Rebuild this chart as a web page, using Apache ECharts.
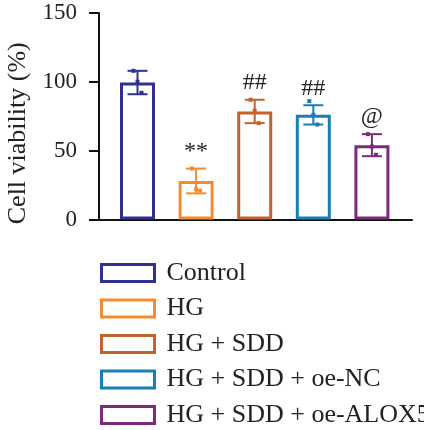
<!DOCTYPE html>
<html>
<head>
<meta charset="utf-8">
<script src="https://cdn.jsdelivr.net/npm/echarts@6/dist/echarts.min.js"></script>
<style>
  html, body { margin: 0; padding: 0; background: #fff; }
  #chart { width: 424px; height: 430px; }
</style>
</head>
<body>
<div id="chart"></div>
<script>
// groups and measured values (cell viability, %)
const categories = ['Control', 'HG', 'HG + SDD', 'HG + SDD + oe-NC', 'HG + SDD + oe-ALOX5']
const means = [99.5, 28, 78.5, 76, 54]
const sds = [8.5, 9, 8.5, 7, 8]
const points = [
  [108, 100, 92],
  [37, 22, 21],
  [87, 79, 70],
  [86, 76, 69],
  [62, 53, 47],
]
const marks = ['', '**', '##', '##', '@']
const yTicks = [0, 50, 100, 150]

const colors = ['#2e3190', '#f68a2e', '#c5622c', '#1b7db6', '#7d2a7c']
const fontFamily = '"Liberation Serif", "Times New Roman", serif'

const chart = echarts.init(document.getElementById('chart'))

// one bar series holds all groups
const barSeries = {
  type: 'bar',
  barWidth: 35,
  data: categories.map((name, i) => ({
    value: [i + 1, means[i]],
    itemStyle: { color: '#fff', borderColor: colors[i], borderWidth: 3 },
  })),
  z: 2,
}
// empty series, only for the legend entries (scatter so they take no bar slot)
const legendSeries = categories.map((name, i) => ({
  name: name,
  type: 'scatter',
  data: [],
  itemStyle: { color: '#fff', borderColor: colors[i], borderWidth: 3, opacity: 1 },
}))

// error bars + significance marks
const errSeries = {
  type: 'custom',
  z: 3,
  data: categories.map((c, i) => [i + 1, means[i] - sds[i], means[i] + sds[i], i]),
  renderItem: function (params, api) {
    const i = api.value(3)
    const lo = api.coord([api.value(0), api.value(1)])
    const hi = api.coord([api.value(0), api.value(2)])
    const half = 10
    const st = { stroke: colors[i], lineWidth: 2 }
    return {
      type: 'group',
      children: [
        { type: 'line', shape: { x1: lo[0], y1: lo[1], x2: hi[0], y2: hi[1] }, style: st },
        { type: 'line', shape: { x1: hi[0] - half, y1: hi[1], x2: hi[0] + half, y2: hi[1] }, style: st },
        { type: 'line', shape: { x1: lo[0] - half, y1: lo[1], x2: lo[0] + half, y2: lo[1] }, style: st },
        {
          type: 'text',
          style: {
            text: marks[i],
            x: hi[0],
            y: hi[1] - 5,
            align: 'center',
            verticalAlign: 'bottom',
            fill: '#222',
            font: '24px ' + fontFamily,
          },
        },
      ],
    }
  },
}

// individual data points
const dotData = []
points.forEach((arr, i) => {
  arr.forEach((v, k) => {
    dotData.push({
      value: [i + 1, v],
      symbolOffset: [(k - 1) * 4, 0],
      itemStyle: { color: colors[i], opacity: 1 },
    })
  })
})
const dotSeries = {
  type: 'scatter',
  symbol: 'rect',
  symbolSize: 4,
  data: dotData,
  z: 4,
}

const options = {
  animation: false,
  grid: {
    left: 99,
    right: 12,
    top: 13,
    bottom: 210.5,
    outerBoundsMode: 'none',
  },
  legend: {
    orient: 'vertical',
    left: 100,
    top: 260,
    height: 200,
    padding: 0,
    itemWidth: 53,
    itemHeight: 17,
    itemGap: 9.5,
    icon: 'rect',
    textStyle: {
      fontFamily: fontFamily,
      fontSize: 26,
      color: '#222',
      padding: [0, 0, 0, 7],
    },
    data: categories.map((name, i) => ({
      name: name,
      icon: 'rect',
      itemStyle: { color: '#fff', borderColor: colors[i], borderWidth: 3, opacity: 1 },
    })),
  },
  xAxis: {
    type: 'value',
    min: 0.343,
    max: 5.684,
    axisLine: { show: true, lineStyle: { color: '#111', width: 2 } },
    axisTick: { show: false },
    axisLabel: { show: false },
    splitLine: { show: false },
  },
  yAxis: {
    type: 'value',
    min: 0,
    max: 150,
    interval: 50,
    name: 'Cell viability (%)',
    nameLocation: 'middle',
    nameGap: 68,
    nameTextStyle: {
      fontFamily: fontFamily,
      fontSize: 26,
      color: '#222',
      padding: [0, 34, 0, 0],
    },
    axisLine: { show: true, lineStyle: { color: '#111', width: 2 } },
    axisTick: { show: true, length: 10, lineStyle: { color: '#111', width: 2 } },
    axisLabel: {
      fontFamily: fontFamily,
      fontSize: 23,
      color: '#222',
      margin: 22,
      formatter: v => (yTicks.indexOf(v) >= 0 ? String(v) : ''),
    },
    splitLine: { show: false },
  },
  series: [barSeries, ...legendSeries, errSeries, dotSeries],
}

chart.setOption(options)
window.addEventListener('resize', function () {
  chart && chart.resize()
})
</script>
</body>
</html>
